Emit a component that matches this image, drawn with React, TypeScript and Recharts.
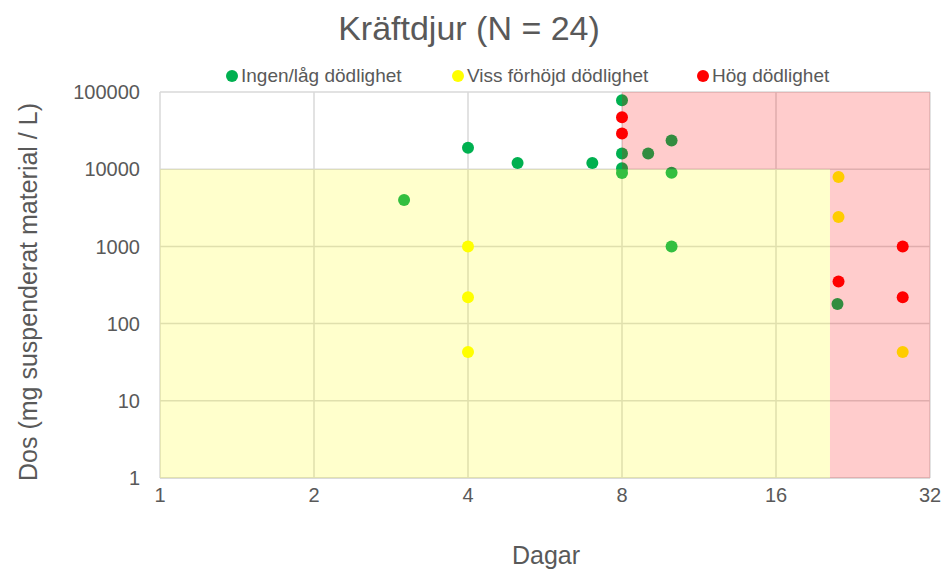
import React from 'react';
import { ScatterChart, Scatter, XAxis, YAxis, CartesianGrid, ReferenceArea } from 'recharts';

const xTicks = [1, 2, 4, 8, 16, 32];
const yTicks = [1, 10, 100, 1000, 10000, 100000];

const lowX = [3, 4, 5, 7, 8, 8, 8, 8, 9, 10, 10, 10, 21.1];
const lowY = [4000, 19000, 12000, 12000, 78000, 16000, 10300, 8900, 16000, 23500, 9000, 1000, 180];
const someX = [4, 4, 4, 21.2, 21.2, 28.3];
const someY = [1000, 220, 43, 7900, 2400, 43];
const highX = [8, 8, 21.2, 28.3, 28.3];
const highY = [47000, 29000, 350, 1000, 220];

const seriesNames = ['Ingen/låg dödlighet', 'Viss förhöjd dödlighet', 'Hög dödlighet'];
const seriesColors = ['#00B050', '#FFFF00', '#FF0000'];

const toPts = (xs: number[], ys: number[]) => xs.map((x, i) => ({ x, y: ys[i] }));
const lowData = toPts(lowX, lowY);
const someData = toPts(someX, someY);
const highData = toPts(highX, highY);

const FONT = '"Liberation Sans", Arial, sans-serif';
const GREY = '#595959';

const dot = (color: string) => (props: any) => (
  <circle cx={props.cx} cy={props.cy} r={6} fill={color} />
);

export default function App() {
  return (
    <div style={{ position: 'absolute', left: 0, top: 0, width: 951, height: 570, background: '#fff', fontFamily: FONT }}>
      <div style={{ position: 'absolute', left: 0, top: 8, width: 938, textAlign: 'center', fontSize: 34, color: GREY, lineHeight: '40px' }}>
        Kräftdjur (N = 24)
      </div>
      {[0, 1, 2].map((i) => (
        <div key={i} style={{ position: 'absolute', left: [226, 452, 697][i], top: 65, display: 'flex', alignItems: 'center', fontSize: 19, lineHeight: '22px', color: GREY, whiteSpace: 'nowrap' }}>
          <span style={{ display: 'inline-block', width: 12, height: 12, borderRadius: '50%', background: seriesColors[i], marginRight: 3 }} />
          {seriesNames[i]}
        </div>
      ))}
      <div style={{ position: 'absolute', left: 28, top: 292, transform: 'translate(-50%, -50%) rotate(-90deg)', fontSize: 25, color: GREY, whiteSpace: 'nowrap' }}>
        Dos (mg suspenderat material / L)
      </div>
      <div style={{ position: 'absolute', left: 546, top: 555, transform: 'translate(-50%, -50%)', fontSize: 25, color: GREY }}>
        Dagar
      </div>
      <ScatterChart width={951} height={570} margin={{ top: 92, right: 21, bottom: 0, left: 0 }}>
        <CartesianGrid stroke="#D9D9D9" strokeWidth={1.5} horizontalValues={yTicks} verticalValues={xTicks} />
        <XAxis type="number" dataKey="x" scale="log" domain={[1, 32]} ticks={xTicks} allowDataOverflow
          height={92} axisLine={{ stroke: '#D9D9D9', strokeWidth: 1.5 }} tickLine={false}
          tick={{ fill: GREY, fontSize: 20, fontFamily: FONT }} tickMargin={4} />
        <YAxis type="number" dataKey="y" scale="log" domain={[1, 100000]} ticks={yTicks} allowDataOverflow
          width={160} axisLine={false} tickLine={false}
          tick={{ fill: GREY, fontSize: 20, fontFamily: FONT }} tickMargin={14} />
        <Scatter name={seriesNames[0]} data={lowData} fill={seriesColors[0]} shape={dot(seriesColors[0])} isAnimationActive={false} />
        <Scatter name={seriesNames[1]} data={someData} fill={seriesColors[1]} shape={dot(seriesColors[1])} isAnimationActive={false} />
        <Scatter name={seriesNames[2]} data={highData} fill={seriesColors[2]} shape={dot(seriesColors[2])} isAnimationActive={false} />
        <ReferenceArea x1={1} x2={20.4} y1={1} y2={10000} fill="#FFFF00" fillOpacity={0.2} stroke="none" zIndex={1000} />
        <ReferenceArea x1={8} x2={32} y1={10000} y2={100000} fill="#FF0000" fillOpacity={0.2} stroke="none" zIndex={1000} />
        <ReferenceArea x1={20.4} x2={32} y1={1} y2={10000} fill="#FF0000" fillOpacity={0.2} stroke="none" zIndex={1000} />
      </ScatterChart>
    </div>
  );
}
